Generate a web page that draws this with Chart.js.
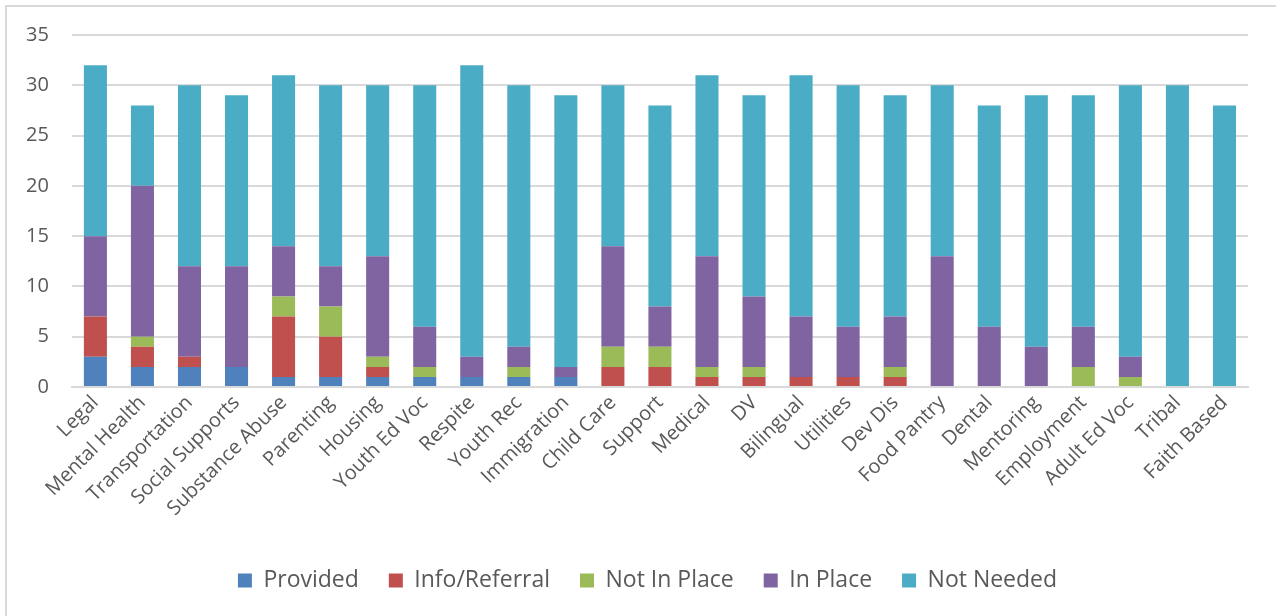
<!DOCTYPE html>
<html>
<head>
<meta charset="utf-8">
<script src="https://cdn.jsdelivr.net/npm/chart.js@4.4.1/dist/chart.umd.min.js"></script>
<style>
  html, body { margin: 0; padding: 0; background: #fff; overflow: hidden; }
  #frame { position: absolute; left: 5px; top: 5px; width: 1400px; height: 700px; border: 2px solid #d9d9d9; box-sizing: border-box; }
  #c { position: absolute; left: 0; top: 0; }
</style>
</head>
<body>
<div id="frame"></div>
<canvas id="c" width="1276" height="616"></canvas>
<script>
const categories = ["Legal","Mental Health","Transportation","Social Supports","Substance Abuse","Parenting","Housing","Youth Ed Voc","Respite","Youth Rec","Immigration","Child Care","Support","Medical","DV","Bilingual","Utilities","Dev Dis","Food Pantry","Dental","Mentoring","Employment","Adult Ed Voc","Tribal","Faith Based"];
const provided   = [3,2,2,2,1,1,1,1,1,1,1,0,0,0,0,0,0,0,0,0,0,0,0,0,0];
const infoReferral = [4,2,1,0,6,4,1,0,0,0,0,2,2,1,1,1,1,1,0,0,0,0,0,0,0];
const notInPlace = [0,1,0,0,2,3,1,1,0,1,0,2,2,1,1,0,0,1,0,0,0,2,1,0,0];
const inPlace    = [8,15,9,10,5,4,10,4,2,2,1,10,4,11,7,6,5,5,13,6,4,4,2,0,0];
const notNeeded  = [17,8,18,17,17,18,17,24,29,26,27,16,20,18,20,24,24,22,17,22,25,23,27,30,28];
const yTicks = [0,5,10,15,20,25,30,35];

const seriesNames = ["Provided","Info/Referral","Not In Place","In Place","Not Needed"];
const seriesData = [provided, infoReferral, notInPlace, inPlace, notNeeded];
const seriesColors = ["#4F81BD","#C0504D","#9BBB59","#8064A2","#4BACC6"];

const txt = "#595959";
const font = "'Open Sans', sans-serif";

const shiftLegend = {
  id: 'shiftLegend',
  afterLayout(chart) {
    if (chart.legend) { chart.legend.left += 22; chart.legend.right += 22; }
  }
};

new Chart(document.getElementById('c'), {
  type: 'bar',
  data: {
    labels: categories,
    datasets: seriesNames.map((n, i) => ({
      label: n,
      data: seriesData[i],
      backgroundColor: seriesColors[i],
      borderWidth: 0,
      barPercentage: 0.49,
      categoryPercentage: 1.0
    }))
  },
  plugins: [shiftLegend],
  options: {
    responsive: false,
    animation: false,
    devicePixelRatio: 1,
    layout: { padding: { left: 3, right: 28, top: 27, bottom: 14 } },
    plugins: {
      tooltip: { enabled: false },
      legend: {
        position: 'bottom',
        labels: {
          color: txt,
          font: { family: font, size: 23 },
          boxWidth: 14,
          boxHeight: 14,
          padding: 30
        }
      }
    },
    scales: {
      x: {
        stacked: true,
        grid: { display: false, drawTicks: false },
        border: { display: true, color: '#d9d9d9', width: 2 },
        ticks: {
          color: txt,
          font: { family: font, size: 20 },
          maxRotation: 45,
          minRotation: 45,
          autoSkip: false,
          padding: 4
        },
        afterFit: s => { s.height = 152; }
      },
      y: {
        stacked: true,
        min: 0,
        max: 35,
        afterBuildTicks: s => { s.ticks = yTicks.map(v => ({ value: v })); },
        grid: { color: '#d9d9d9', lineWidth: 2, drawTicks: false },
        border: { display: false },
        ticks: {
          color: txt,
          font: { family: font, size: 20 },
          padding: 23
        }
      }
    }
  }
});
</script>
</body>
</html>
